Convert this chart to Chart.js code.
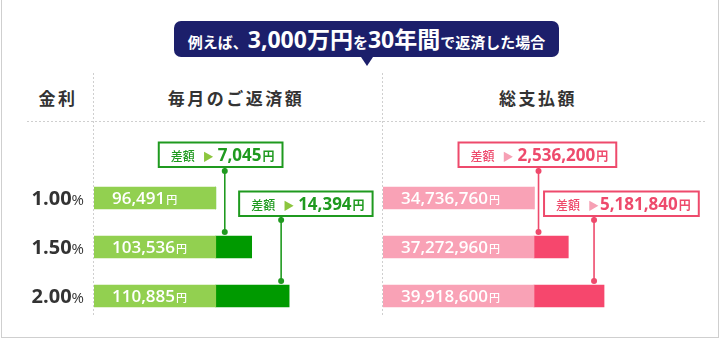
<!DOCTYPE html>
<html lang="ja">
<head>
<meta charset="utf-8">
<script src="https://cdn.jsdelivr.net/npm/chart.js@4.4.1/dist/chart.umd.min.js"></script>
<style>
body { margin: 0; background: #fff; font-family: "Noto Sans CJK JP", sans-serif; }
#wrap { position: relative; width: 720px; height: 339px; overflow: hidden; }
.frame { position: absolute; left: 1px; top: -1px; width: 718px; height: 339px; border: 1px solid #cfcfcf; box-sizing: border-box; }
#title { position: absolute; left: 174px; top: 21px; width: 385px; height: 36px; background: #1c1f6b; border-radius: 7px;
  color: #fff; font-weight: 700; text-align: center; line-height: 36px; white-space: nowrap; }
#title:after { content: ''; position: absolute; left: 187px; top: 36px; border-left: 6px solid transparent;
  border-right: 6px solid transparent; border-top: 9px solid #1c1f6b; }
#title .s { font-size: 15px; }
#title .b { font-size: 23px; font-family: "Open Sans", "Noto Sans CJK JP", sans-serif; }
.head { position: absolute; top: 86px; height: 24px; line-height: 24px; font-size: 17px; font-weight: 700; color: #333;
  letter-spacing: 2.5px; text-align: center; transform: translateX(-50%); white-space: nowrap; }
.vdash { position: absolute; width: 1px; top: 73px; height: 244px;
  background: repeating-linear-gradient(to bottom, #cfcfcf 0 2px, transparent 2px 4px); }
.hdash { position: absolute; height: 1px; top: 121px; left: 27px; width: 678px;
  background: repeating-linear-gradient(to right, #cfcfcf 0 2px, transparent 2px 4px); }
canvas { position: absolute; top: 0; }
</style>
</head>
<body>
<div id="wrap">
  <div class="frame"></div>
  <div class="vdash" style="left:93px"></div>
  <div class="vdash" style="left:382px"></div>
  <div class="hdash"></div>
  <div class="head" style="left:58px">金利</div>
  <div class="head" style="left:236px">毎月のご返済額</div>
  <div class="head" style="left:538px">総支払額</div>
  <div id="title"><span class="s">例えば、</span><span class="b">3,000万円</span><span class="s">を</span><span class="b">30年間</span><span class="s">で返済した場合</span></div>
  <canvas id="monthly" width="383" height="339" style="left:0"></canvas>
  <canvas id="total" width="337" height="339" style="left:383px"></canvas>
</div>
<script>
const rates = ['1.00', '1.50', '2.00'];
const monthlyPay = [96491, 103536, 110885];
const totalPay = [34736760, 37272960, 39918600];
const monthlyRange = [72600, 129300];
const totalRange = [23560000, 48500000];

const NUM = '"Open Sans", "Noto Sans CJK JP", sans-serif';
const JP = '"Noto Sans CJK JP", sans-serif';
const fmt = v => v.toLocaleString('en-US');

// light part = first row's value, dark part = the difference from it
function splitBars(values) {
    const base = values[0];
    return {
        light: values.map(v => Math.min(v, base)),
        dark: values.map(v => v - base)
    };
}

const annotate = {
    id: 'annotate',
    afterDatasetsDraw(chart, args, o) {
        const ctx = chart.ctx;
        const lightBars = chart.getDatasetMeta(0).data;
        const darkBars = chart.getDatasetMeta(1).data;
        const vals = o.values;
        ctx.save();
        ctx.textBaseline = 'alphabetic';
        ctx.textAlign = 'left';

        // value inside each bar
        lightBars.forEach((bar, i) => {
            const { y } = bar.getProps(['y'], true);
            const x0 = chart.chartArea.left + 18;
            const t = fmt(vals[i]);
            ctx.fillStyle = '#fff';
            ctx.font = '600 17px ' + NUM;
            ctx.fillText(t, x0, y + 6);
            const w = ctx.measureText(t).width;
            ctx.font = '500 11px ' + JP;
            ctx.fillText('円', x0 + w + 1, y + 6);
        });

        // rate labels on the left
        if (o.rates) {
            lightBars.forEach((bar, i) => {
                const { y } = bar.getProps(['y'], true);
                ctx.fillStyle = '#333';
                ctx.textAlign = 'right';
                ctx.font = '15px ' + NUM;
                ctx.fillText('%', 84, y + 7);
                const pw = ctx.measureText('%').width;
                ctx.font = 'bold 20px ' + NUM;
                ctx.fillText(o.rates[i], 84 - pw, y + 7);
            });
            ctx.textAlign = 'left';
        }

        // difference callouts
        o.callouts.forEach(c => {
            const seg = darkBars[c.row].getProps(['x', 'base', 'y', 'height'], true);
            const left = Math.min(seg.x, seg.base), right = Math.max(seg.x, seg.base);
            const cx = c.from === 'start' ? left + c.dx : right + c.dx;
            const barTop = seg.y - seg.height / 2;
            const boxBottom = barTop - 69, boxH = 24.5, boxTop = boxBottom - boxH;

            const parts = [
                { t: '差額', font: '500 12px ' + JP, color: o.main, gap: 8 },
                { t: '▶', font: '11px ' + JP, color: o.arrow, gap: c.arrowGap },
                { t: fmt(vals[c.row] - vals[0]), font: 'bold 17px ' + NUM, color: o.main, gap: 1 },
                { t: '円', font: 'bold 12px ' + JP, color: o.main, gap: 0 }
            ];
            let width = 12 + 8;
            parts.forEach(p => { ctx.font = p.font; p.w = ctx.measureText(p.t).width; width += p.w + p.gap; });
            const boxLeft = cx - c.boxDx;

            ctx.strokeStyle = o.main;
            ctx.lineWidth = 1.6;
            ctx.beginPath();
            ctx.moveTo(cx, boxBottom);
            ctx.lineTo(cx, barTop - 4);
            ctx.stroke();

            ctx.fillStyle = '#fff';
            ctx.fillRect(boxLeft, boxTop, width, boxH);
            ctx.lineWidth = 2;
            ctx.strokeRect(boxLeft, boxTop, width, boxH);

            ctx.fillStyle = o.main;
            [boxBottom + 4, barTop - 4].forEach(dy => {
                ctx.beginPath();
                ctx.arc(cx, dy, 3, 0, Math.PI * 2);
                ctx.fill();
            });

            let tx = boxLeft + 12;
            const ty = boxTop + boxH / 2 + 6;
            parts.forEach(p => {
                ctx.font = p.font;
                ctx.fillStyle = p.color;
                ctx.fillText(p.t, tx, ty);
                tx += p.w + p.gap;
            });
        });
        ctx.restore();
    }
};

function makeChart(id, values, range, colors, extra) {
    const parts = splitBars(values);
    return new Chart(document.getElementById(id), {
        type: 'bar',
        data: {
            labels: rates,
            datasets: [
                { data: parts.light, backgroundColor: colors.light, barThickness: 22, borderWidth: 0 },
                { data: parts.dark, backgroundColor: colors.dark, barThickness: 22, borderWidth: 0 }
            ]
        },
        options: {
            indexAxis: 'y',
            responsive: false,
            animation: false,
            layout: { padding: { left: extra.padLeft, right: 0, top: 173.5, bottom: 18.5 } },
            scales: {
                x: { display: false, stacked: true, min: range[0], max: range[1] },
                y: { display: false, stacked: true }
            },
            plugins: {
                legend: { display: false },
                tooltip: { enabled: false },
                annotate: {
                    values: values,
                    rates: extra.rates,
                    main: colors.main,
                    arrow: colors.arrow,
                    callouts: extra.callouts
                }
            }
        },
        plugins: [annotate]
    });
}

makeChart('monthly', monthlyPay, monthlyRange,
    { light: '#92d050', dark: '#009a00', main: '#1f9a1f', arrow: '#8cc63e' },
    {
        padLeft: 94,
        rates: rates,
        callouts: [
            { row: 1, from: 'start', dx: 9, boxDx: 66, arrowGap: 4 },
            { row: 2, from: 'end', dx: -8, boxDx: 42, arrowGap: 4 }
        ]
    });

makeChart('total', totalPay, totalRange,
    { light: '#f9a2b6', dark: '#f6476d', main: '#ee4a6c', arrow: '#f6a0b4' },
    {
        padLeft: 0,
        rates: null,
        callouts: [
            { row: 1, from: 'start', dx: 4.5, boxDx: 80, arrowGap: 4 },
            { row: 2, from: 'end', dx: -10, boxDx: 50, arrowGap: 1 }
        ]
    });
</script>
</body>
</html>
